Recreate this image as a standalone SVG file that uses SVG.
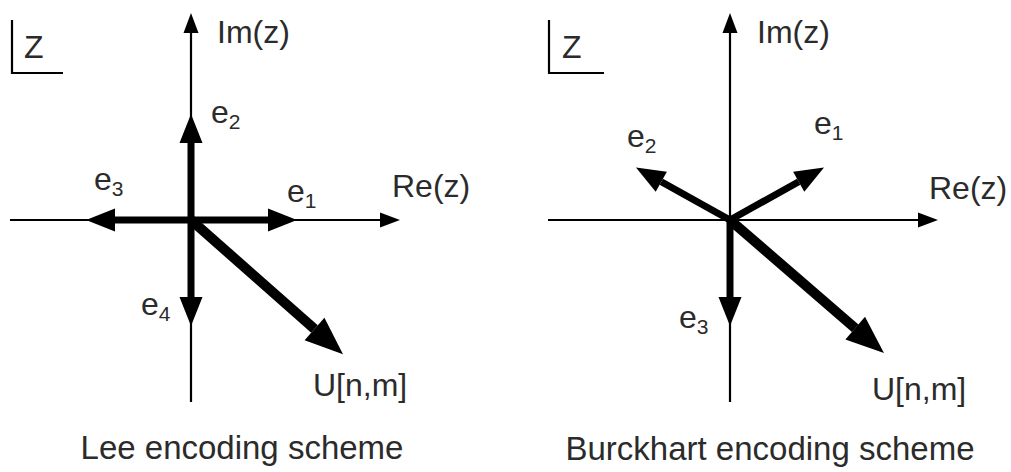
<svg xmlns="http://www.w3.org/2000/svg" width="1011" height="472" viewBox="0 0 1011 472">
<style>
.ax{stroke:#000;stroke-width:2.2;fill:none}
.vec{stroke:#000;stroke-width:7;fill:none}
.big{stroke:#000;stroke-width:10;fill:none}
.frm{stroke:#000;stroke-width:2.2;fill:none}
text{font-family:"Liberation Sans",Arial,Helvetica,sans-serif;fill:#2b2b2b;font-size:32px}
.sub{font-size:21px}
.cap{font-size:33px}
</style>
<defs>
<marker id="axh" markerUnits="userSpaceOnUse" markerWidth="20" markerHeight="15" refX="0" refY="7.5" orient="auto" overflow="visible"><path d="M0,0 L20,7.5 L0,15 z" fill="#000"/></marker>
<marker id="vh" markerUnits="userSpaceOnUse" markerWidth="29" markerHeight="23" refX="0" refY="11.5" orient="auto" overflow="visible"><path d="M0,0 L29,11.5 L0,23 z" fill="#000"/></marker>
<marker id="bh" markerUnits="userSpaceOnUse" markerWidth="38" markerHeight="30" refX="0" refY="15" orient="auto" overflow="visible"><path d="M0,0 L38,15 L0,30 z" fill="#000"/></marker>
</defs>
<rect width="1011" height="472" fill="#fff"/>
<g id="connectors">
<!-- Left panel -->
<line class="ax" x1="191" y1="402" x2="191" y2="33" marker-end="url(#axh)"/>
<line class="ax" x1="10" y1="220" x2="380" y2="220" marker-end="url(#axh)"/>
<line class="vec" x1="191" y1="220" x2="191" y2="143" marker-end="url(#vh)"/>
<line class="vec" x1="188" y1="220" x2="268" y2="220" marker-end="url(#vh)"/>
<line class="vec" x1="194" y1="220" x2="115" y2="220" marker-end="url(#vh)"/>
<line class="vec" x1="191" y1="217" x2="191" y2="297" marker-end="url(#vh)"/>
<line class="big" x1="191" y1="220" x2="314.5" y2="329" marker-end="url(#bh)"/>
<!-- Right panel -->
<line class="ax" x1="730" y1="402" x2="730" y2="33" marker-end="url(#axh)"/>
<line class="ax" x1="548" y1="220" x2="918" y2="220" marker-end="url(#axh)"/>
<line class="vec" x1="730" y1="220" x2="798.7" y2="181.7" marker-end="url(#vh)"/>
<line class="vec" x1="730" y1="220" x2="661.3" y2="181.7" marker-end="url(#vh)"/>
<line class="vec" x1="730" y1="217" x2="730" y2="297" marker-end="url(#vh)"/>
<line class="big" x1="730" y1="220" x2="855.2" y2="328.2" marker-end="url(#bh)"/>
</g>
<g id="left-panel">
<g id="left-zlabel"><path class="frm" d="M12,20 V73 H63"/><text x="24" y="58">Z</text></g>
<g id="left-im"><text x="217" y="43">Im(z)</text></g>
<g id="left-re"><text x="392" y="197">Re(z)</text></g>
<g id="left-e1"><text x="287" y="202">e<tspan class="sub" dy="6">1</tspan></text></g>
<g id="left-e2"><text x="211" y="123">e<tspan class="sub" dy="6">2</tspan></text></g>
<g id="left-e3"><text x="94" y="190">e<tspan class="sub" dy="6">3</tspan></text></g>
<g id="left-e4"><text x="141" y="315">e<tspan class="sub" dy="6">4</tspan></text></g>
<g id="left-u"><text x="313" y="396">U[n,m]</text></g>
<g id="left-caption"><text class="cap" x="242" y="459" text-anchor="middle">Lee encoding scheme</text></g>
</g>
<g id="right-panel">
<g id="right-zlabel"><path class="frm" d="M549,20 V73 H604"/><text x="562" y="58">Z</text></g>
<g id="right-im"><text x="757" y="43">Im(z)</text></g>
<g id="right-re"><text x="929" y="199">Re(z)</text></g>
<g id="right-e1"><text x="814" y="134">e<tspan class="sub" dy="6">1</tspan></text></g>
<g id="right-e2"><text x="627" y="147">e<tspan class="sub" dy="6">2</tspan></text></g>
<g id="right-e3"><text x="679" y="328">e<tspan class="sub" dy="6">3</tspan></text></g>
<g id="right-u"><text x="872" y="400">U[n,m]</text></g>
<g id="right-caption"><text class="cap" x="770" y="460" text-anchor="middle">Burckhart encoding scheme</text></g>
</g>
</svg>
